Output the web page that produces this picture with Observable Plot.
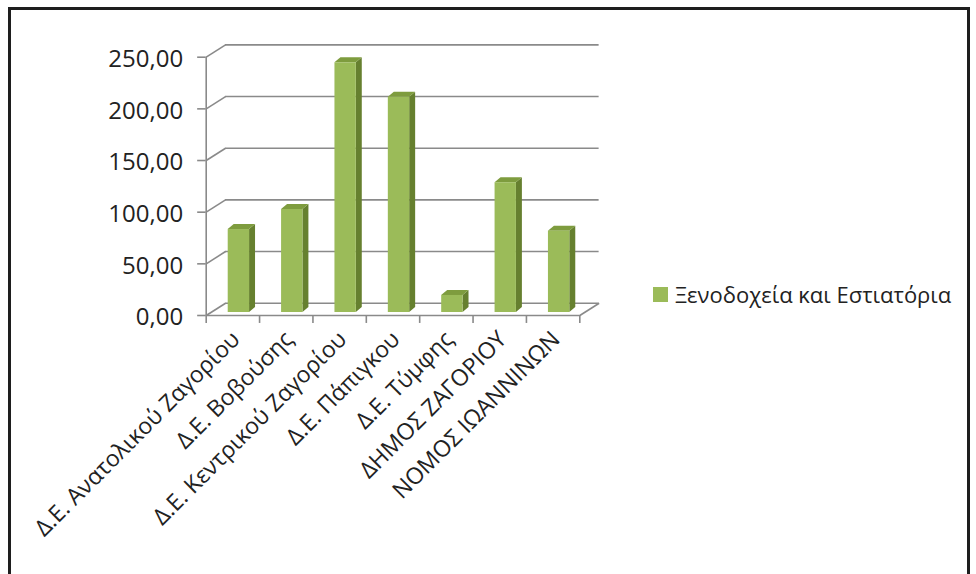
<!DOCTYPE html>
<html>
<head>
<meta charset="utf-8">
<script src="https://cdn.jsdelivr.net/npm/d3@7"></script>
<script src="https://cdn.jsdelivr.net/npm/@observablehq/plot@0.6"></script>
<style>
  html, body { margin: 0; padding: 0; background: #fff; }
  body { width: 976px; height: 574px; position: relative; overflow: hidden; font-family: "Open Sans", sans-serif; }
  #frame { position: absolute; left: 8px; top: 7px; width: 962px; height: 600px; border: 3px solid #1e1e1e; box-sizing: border-box; }
  #chart { position: absolute; left: 0; top: 0; }
  #legend { position: absolute; left: 653px; top: 279px; display: flex; align-items: center; font-size: 22px; color: #222; }
  #legend .sw { width: 15px; height: 15px; background: #9bbb59; margin-right: 7px; }
</style>
</head>
<body>
<div id="frame"></div>
<div id="chart"></div>
<div id="legend"><div class="sw"></div><span id="legend-label"></span></div>
<script>
// ---- data ----
const categories = [
  "Δ.Ε. Ανατολικού Ζαγορίου",
  "Δ.Ε. Βοβούσης",
  "Δ.Ε. Κεντρικού Ζαγορίου",
  "Δ.Ε. Πάπιγκου",
  "Δ.Ε. Τύμφης",
  "ΔΗΜΟΣ ΖΑΓΟΡΙΟΥ",
  "ΝΟΜΟΣ ΙΩΑΝΝΙΝΩΝ"
];
const values = [80.3, 99.7, 241.7, 208.4, 16.5, 125.6, 78.7];
const seriesName = "Ξενοδοχεία και Εστιατόρια";
const yTicks = [0, 50, 100, 150, 200, 250];

// ---- style / geometry constants ----
const FRONT = "#9bbb59", SIDE = "#66802f", TOP = "#7e9c3e";
const GRID = "#8a8a8a";
const half = 0.2;          // half bar width in category units
const bd = 0.112;          // bar depth (x, category units)
const be = 4.8;            // bar depth (y, value units)
const wd = 0.362;          // wall depth (x)
const we = 11.9;           // wall depth (y)

document.getElementById("legend-label").textContent = seriesName;

const bars = values.map((v, i) => ({i, v, name: categories[i]}));
const sideFaces = bars.flatMap(b => [
  {id: b.i, x: b.i + half, y1: 0, y2: b.v},
  {id: b.i, x: b.i + half + bd, y1: be, y2: b.v + be}
]);
const topFaces = bars.flatMap(b => [
  {id: b.i, x: b.i - half, y1: b.v, y2: b.v},
  {id: b.i, x: b.i - half + bd, y1: b.v, y2: b.v + be},
  {id: b.i, x: b.i + half, y1: b.v, y2: b.v + be},
  {id: b.i, x: b.i + half + bd, y1: b.v + be, y2: b.v + be}
]);
const boundaries = d3.range(categories.length + 1).map(k => k - 0.5);
const xmin = -0.5, xmax = categories.length - 0.5;

const fmt = d => d.toFixed(2).replace(".", ",");

const chart = Plot.plot({
  width: 976,
  height: 574,
  marginLeft: 206,
  marginRight: 370,
  marginTop: 40,
  marginBottom: 259,
  style: {fontFamily: "Open Sans, sans-serif", fontSize: "22px", color: "#222", background: "transparent"},
  x: {type: "linear", domain: [xmin, xmax], range: [205.7, 579.3], axis: null},
  y: {domain: [0, 250], range: [315, 56.7], axis: null},
  marks: [
    // back wall gridlines
    Plot.ruleY(yTicks, {y: d => d + we, x1: xmin + wd, x2: xmax + wd, stroke: GRID, strokeWidth: 1.6}),
    // side wall diagonals
    Plot.link(yTicks, {x1: xmin, y1: d => d, x2: xmin + wd, y2: d => d + we, stroke: GRID, strokeWidth: 1.6}),
    // floor right diagonal
    Plot.link([0], {x1: xmax, y1: 0, x2: xmax + wd, y2: we, stroke: GRID, strokeWidth: 1.6}),
    // floor front edge
    Plot.ruleY([0], {x1: xmin, x2: xmax, stroke: GRID, strokeWidth: 1.6}),
    // left axis line
    Plot.ruleX([xmin], {y1: 0, y2: 250, stroke: GRID, strokeWidth: 1.6}),
    // bottom tick marks between categories
    Plot.ruleX(boundaries, {x: d => d, y1: 0, y2: -7.7, stroke: GRID, strokeWidth: 1.6}),
    // left tick marks
    Plot.ruleY(yTicks, {y: d => d, x1: xmin - 0.16, x2: xmin, stroke: GRID, strokeWidth: 1.6}),
    // y tick labels
    Plot.text(yTicks, {x: xmin, y: d => d, text: d => fmt(d), textAnchor: "end", dx: -23, dy: 2, fill: "#222", fontSize: 24}),
    // bars: side face, top face, front face
    Plot.areaY(sideFaces, {x: "x", y1: "y1", y2: "y2", z: "id", fill: SIDE, dx: 6, dy: -3}),
    Plot.areaY(topFaces, {x: "x", y1: "y1", y2: "y2", z: "id", fill: TOP, dx: 6, dy: -3}),
    Plot.rectY(bars, {x1: b => b.i - half, x2: b => b.i + half, y1: 0, y2: "v", fill: FRONT, dx: 6, dy: -3}),
    // category labels
    Plot.text(bars, {x: "i", y: 0, text: "name", rotate: -45, textAnchor: "end", lineAnchor: "middle", dx: 3, dy: 20, fill: "#222", fontSize: 23})
  ]
});
document.getElementById("chart").appendChild(chart);
</script>
</body>
</html>
